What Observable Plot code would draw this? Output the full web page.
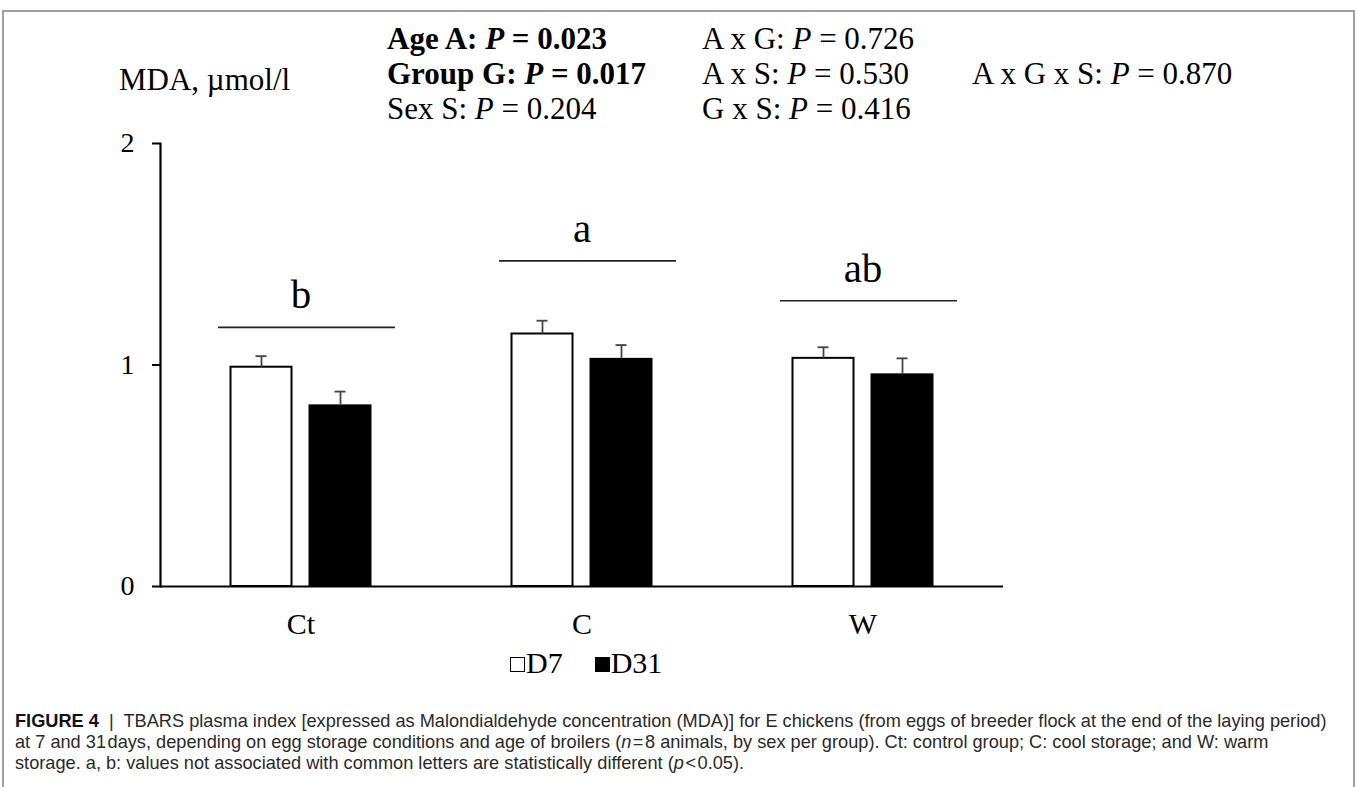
<!DOCTYPE html>
<html>
<head>
<meta charset="utf-8">
<script src="https://cdn.jsdelivr.net/npm/d3@7"></script>
<script src="https://cdn.jsdelivr.net/npm/@observablehq/plot@0.6"></script>
<style>
  html, body { margin: 0; padding: 0; background: #fff; overflow: hidden; width: 1357px; height: 787px; }
  #page { position: relative; width: 1357px; height: 787px; }
  #frame { position: absolute; left: 2px; top: 10px; width: 1353px; height: 840px; border: 2px solid #a0a0a0; box-sizing: border-box; }
  .serif { font-family: "Liberation Serif", "Times New Roman", serif; color: #000; }
  .t { position: absolute; font-size: 31px; line-height: 1; white-space: nowrap; }
  .b { font-weight: bold; }
  #chart { position: absolute; left: 0; top: 0; }
  #legend { position: absolute; left: 510px; top: 648px; font-size: 30px; line-height: 1; white-space: nowrap; }
  .sw { display: inline-block; width: 15px; height: 15px; box-sizing: border-box; border: 1.5px solid #000; vertical-align: 1px; margin-right: 1px; }
  #caption { position: absolute; left: 15px; top: 711px; font-family: "Liberation Sans", Arial, sans-serif; font-size: 18.2px; line-height: 21px; color: #2a2a2a; white-space: nowrap; }
</style>
</head>
<body>
<div id="page">
  <div id="frame"></div>
  <div id="chart"></div>
  <div class="serif t" style="left:119px; top:64px;">MDA, µmol/l</div>
  <div class="serif t b" style="left:387px; top:23px;">Age A: <i>P</i> = 0.023</div>
  <div class="serif t b" style="left:387px; top:58px;">Group G: <i>P</i> = 0.017</div>
  <div class="serif t" style="left:387px; top:93px;">Sex S: <i>P</i> = 0.204</div>
  <div class="serif t" style="left:702px; top:23px;">A x G: <i>P</i> = 0.726</div>
  <div class="serif t" style="left:702px; top:58px;">A x S: <i>P</i> = 0.530</div>
  <div class="serif t" style="left:702px; top:93px;">G x S: <i>P</i> = 0.416</div>
  <div class="serif t" style="left:972px; top:58px;">A x G x S: <i>P</i> = 0.870</div>
  <div id="legend" class="serif"></div>
  <div id="caption">
    <b style="color:#111">FIGURE 4</b> &nbsp;|&nbsp; TBARS plasma index [expressed as Malondialdehyde concentration (MDA)] for E chickens (from eggs of breeder flock at the end of the laying period)<br>
    at 7 and 31&#8202;days, depending on egg storage conditions and age of broilers (<i>n</i>&#8202;=&#8202;8 animals, by sex per group). Ct: control group; C: cool storage; and W: warm<br>
    storage. a, b: values not associated with common letters are statistically different (<i>p</i>&#8202;&lt;&#8202;0.05).
  </div>
</div>
<script>
// ---- data ----
const groups = ["Ct", "C", "W"];
const series = ["D7", "D31"];
const d7 = [0.99, 1.14, 1.03];
const d7Err = [0.05, 0.06, 0.05];
const d31 = [0.82, 1.03, 0.96];
const d31Err = [0.06, 0.06, 0.07];
const letters = ["b", "a", "ab"];
const letterLineY = [1.17, 1.47, 1.29];
const yTicks = [0, 1, 2];

const rows = [];
groups.forEach((g, i) => {
  rows.push({group: g, series: "D7", value: d7[i], err: d7Err[i]});
  rows.push({group: g, series: "D31", value: d31[i], err: d31Err[i]});
});
const letterRows = groups.map((g, i) => ({group: g, label: letters[i], y: letterLineY[i]}));

const serif = "Liberation Serif, Times New Roman, serif";

const plot = Plot.plot({
  width: 1357,
  height: 650,
  marginTop: 143,
  marginBottom: 64,
  marginLeft: 159.5,
  marginRight: 354.5,
  style: {fontFamily: serif, fontSize: "28px", color: "#000", background: "transparent", overflow: "visible"},
  fx: {domain: groups, padding: 0, label: null},
  x: {domain: series, paddingInner: 0.2, paddingOuter: 0.86, axis: null},
  y: {domain: [0, 2]},
  marks: [
    Plot.frame({anchor: "left", facetAnchor: "left", stroke: "#000", strokeWidth: 2.2}),
    Plot.ruleY([0], {stroke: "#000", strokeWidth: 2.2}),
    Plot.axisY({ticks: yTicks, tickFormat: d => String(d), tickSize: 8, tickPadding: 18, strokeWidth: 2, fontSize: 28, label: null}),
    Plot.axisFx({anchor: "bottom", tickSize: 0, tickPadding: 26, fontSize: 30, label: null}),
    Plot.barY(rows.filter(d => d.series === "D7"), {fx: "group", x: "series", y: "value", fill: "#fff", stroke: "#000", strokeWidth: 2, insetLeft: 1, insetRight: 1}),
    Plot.barY(rows.filter(d => d.series === "D31"), {fx: "group", x: "series", y: "value", fill: "#000"}),
    Plot.ruleX(rows, {fx: "group", x: "series", y1: "value", y2: d => d.value + d.err, stroke: "#444", strokeWidth: 1.8}),
    Plot.tickY(rows, {fx: "group", x: "series", y: d => d.value + d.err, stroke: "#444", strokeWidth: 1.8, insetLeft: 26, insetRight: 26}),
    Plot.ruleY(letterRows, {fx: "group", y: "y", stroke: "#222", strokeWidth: 1.6, insetLeft: 58, insetRight: 46}),
    Plot.text(letterRows, {fx: "group", y: "y", text: "label", fontSize: 41, lineAnchor: "bottom", dy: -19, fill: "#000"})
  ]
});
document.getElementById("chart").appendChild(plot);

// legend
const legend = document.getElementById("legend");
series.forEach((s, i) => {
  const span = document.createElement("span");
  span.style.marginRight = i === 0 ? "32px" : "0";
  const sw = document.createElement("span");
  sw.className = "sw";
  sw.style.background = s === "D7" ? "#fff" : "#000";
  span.appendChild(sw);
  span.appendChild(document.createTextNode(s));
  legend.appendChild(span);
});
</script>
</body>
</html>
